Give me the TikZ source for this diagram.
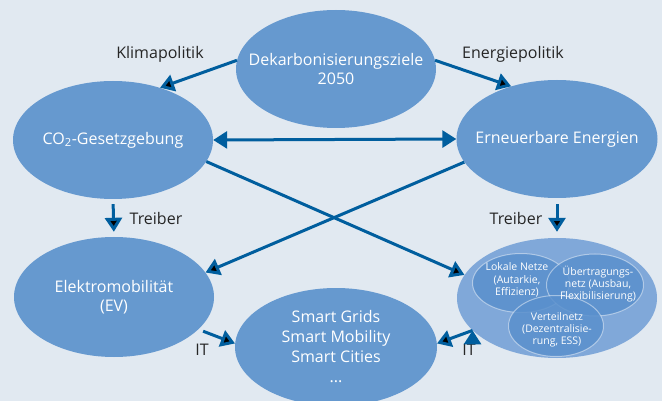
\documentclass[tikz,border=0pt]{standalone}
\usepackage{fontspec}
\setmainfont{Open Sans}
\usetikzlibrary{arrows.meta,shapes.geometric}
\definecolor{bgblue}{RGB}{225,233,241}
\definecolor{ellblue}{RGB}{102,153,207}
\definecolor{ringblue}{RGB}{128,168,217}
\definecolor{netzblue}{RGB}{90,144,205}
\definecolor{arrowblue}{RGB}{0,94,158}
\tikzset{
  topic/.style={ellipse, fill=ellblue, text=white, minimum width=200pt, minimum height=118pt,
    inner sep=-30pt, align=center, font=\fontsize{16}{19}\selectfont},
  netz/.style={ellipse, fill=netzblue, fill opacity=0.85, text opacity=1, draw=white, draw opacity=0.45,
    line width=1pt, inner sep=0pt},
  netztext/.style={text=white, align=center, font=\fontsize{10.5}{12.2}\selectfont},
  flow/.style={draw=arrowblue, line width=3pt, -{Triangle[length=14pt,width=17pt]}},
  tag/.style={text=black!85, font=\fontsize{16}{18}\selectfont}
}
\begin{document}
\begin{tikzpicture}[x=1pt, y=-1pt]
  \fill[bgblue] (0,0) rectangle (662,401);
  \clip (0,0) rectangle (662,401);

  \node (dekarb) [topic] at (336,69) {Dekarbonisierungsziele\\2050};
  \node (co2) [topic] at (113,140) {CO\textsubscript{2}-Gesetzgebung};
  \node (erneuer) [topic, minimum width=201pt] at (557,139) {Erneuerbare Energien};
  \node (elektro) [topic, minimum height=120pt] at (114,297) {Elektromobilität\\(EV)};
  \node (smart) [topic, minimum width=202pt, font=\fontsize{16}{20}\selectfont] at (336,347)
    {Smart Grids\\Smart Mobility\\Smart Cities\\...};

  \node (netze) [ellipse, fill=ringblue, minimum width=200pt, minimum height=120pt] at (557,298) {};
  \node (lokal) [netz, minimum width=97pt, minimum height=59pt] at (521,283) {};
  \node (uebertr) [netz, minimum width=97pt, minimum height=62pt] at (595,285) {};
  \node (verteil) [netz, minimum width=95pt, minimum height=61pt] at (556,326) {};
  \node (lokaltxt) [netztext] at (517,280) {Lokale Netze\\(Autarkie,\\Effizienz)};
  \node (uebertrtxt) [netztext] at (598,284) {Übertragungs-\\netz (Ausbau,\\Flexibilisierung)};
  \node (verteiltxt) [netztext] at (557,330) {Verteilnetz\\(Dezentralisie-\\rung, ESS)};

  \node (klima) [tag] at (160,54) {Klimapolitik};
  \node (energie) [tag] at (513,54) {Energiepolitik};
  \node (treiberl) [tag] at (156,219) {Treiber};
  \node (treiberr) [tag] at (516,219) {Treiber};
  \node (itl) [tag] at (202,350) {IT};
  \node (itr) [tag] at (469,350) {IT};

  \path [flow]
  (dekarb.175) edge (co2.48)
  (dekarb.5) edge (erneuer.131)
  (co2.-13) edge (netze.166)
  (erneuer.194) edge (elektro.15)
  (co2.south) edge [shorten <=5pt, shorten >=5pt] (elektro.north)
  (erneuer.south) edge [shorten <=6pt, shorten >=6pt] (netze.north)
  (elektro.-21) edge [shorten <=5pt] (smart.178)
  (netze.201) edge (smart.2);
  \draw [flow, {Triangle[length=14pt,width=17pt]}-{Triangle[length=14pt,width=17pt]}]
    (co2.east) -- (erneuer.west);
\end{tikzpicture}
\end{document}
